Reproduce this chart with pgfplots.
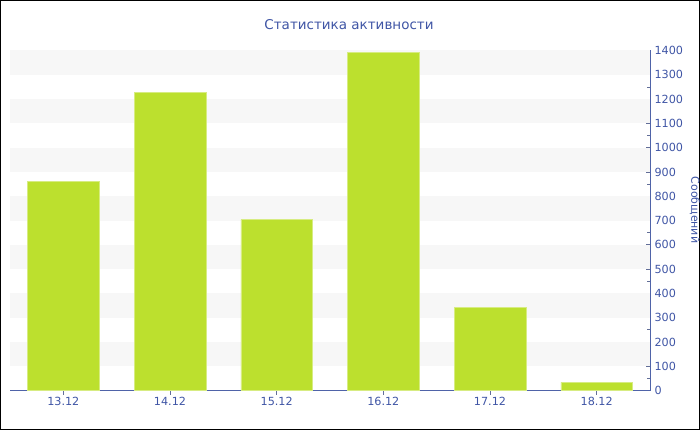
\documentclass[border=0pt]{standalone}
\usepackage{pgfplots}
\pgfplotsset{compat=1.18}
\usepackage{fontspec}
\setmainfont{DejaVu Sans}
\definecolor{barc}{HTML}{BCE02E}
\definecolor{txtc}{HTML}{3F55A5}
\definecolor{axc}{HTML}{4F63A8}
\definecolor{band}{HTML}{F7F7F7}
\begin{document}
\begin{tikzpicture}[x=1bp,y=1bp]
\useasboundingbox (0,0) rectangle (700,430);
\draw[black,line width=1bp] (0.5,0.5) rectangle (699.5,429.5);
\node[txtc,font=\fontsize{13.5bp}{15bp}\selectfont] at (349,405) {Статистика активности};
\node[txtc,rotate=-90,font=\fontsize{11bp}{13bp}\selectfont] at (695,220) {Сообщений};
\begin{axis}[
    at={(10bp,39.5bp)}, anchor=south west,
    scale only axis, width=640bp, height=340bp,
    xmin=-0.5, xmax=5.5, ymin=0, ymax=1400,
    axis x line*=bottom, axis y line*=right,
    axis line style={axc, line width=1bp},
    xtick=data,
    xticklabels={13.12,14.12,15.12,16.12,17.12,18.12},
    ytick={0,100,...,1400}, minor y tick num=1,
    tick style={axc!60!gray, line width=0.8bp},
    major tick length=4bp,
    minor tick length=3bp,
    ytick align=inside, xtick align=outside,
    /pgf/number format/assume math mode=true,
    /pgf/number format/1000 sep={},
    ticklabel style={txtc, font=\fontsize{11.2bp}{13bp}\selectfont},
    yticklabel style={xshift=1bp},
    xticklabel style={yshift=1bp},
    ybar, bar width=71.5bp,
    clip=false,
]
\pgfplotsinvokeforeach{100,300,500,700,900,1100,1300}{
  \fill[band] (axis cs:-0.5,#1) rectangle (axis cs:5.5,{#1+100});
}
\addplot[fill=barc, draw=barc!60!white, line width=0.5bp] coordinates {
 (0,860) (1,1227) (2,704) (3,1393) (4,342) (5,33)};
\end{axis}
\end{tikzpicture}
\end{document}
